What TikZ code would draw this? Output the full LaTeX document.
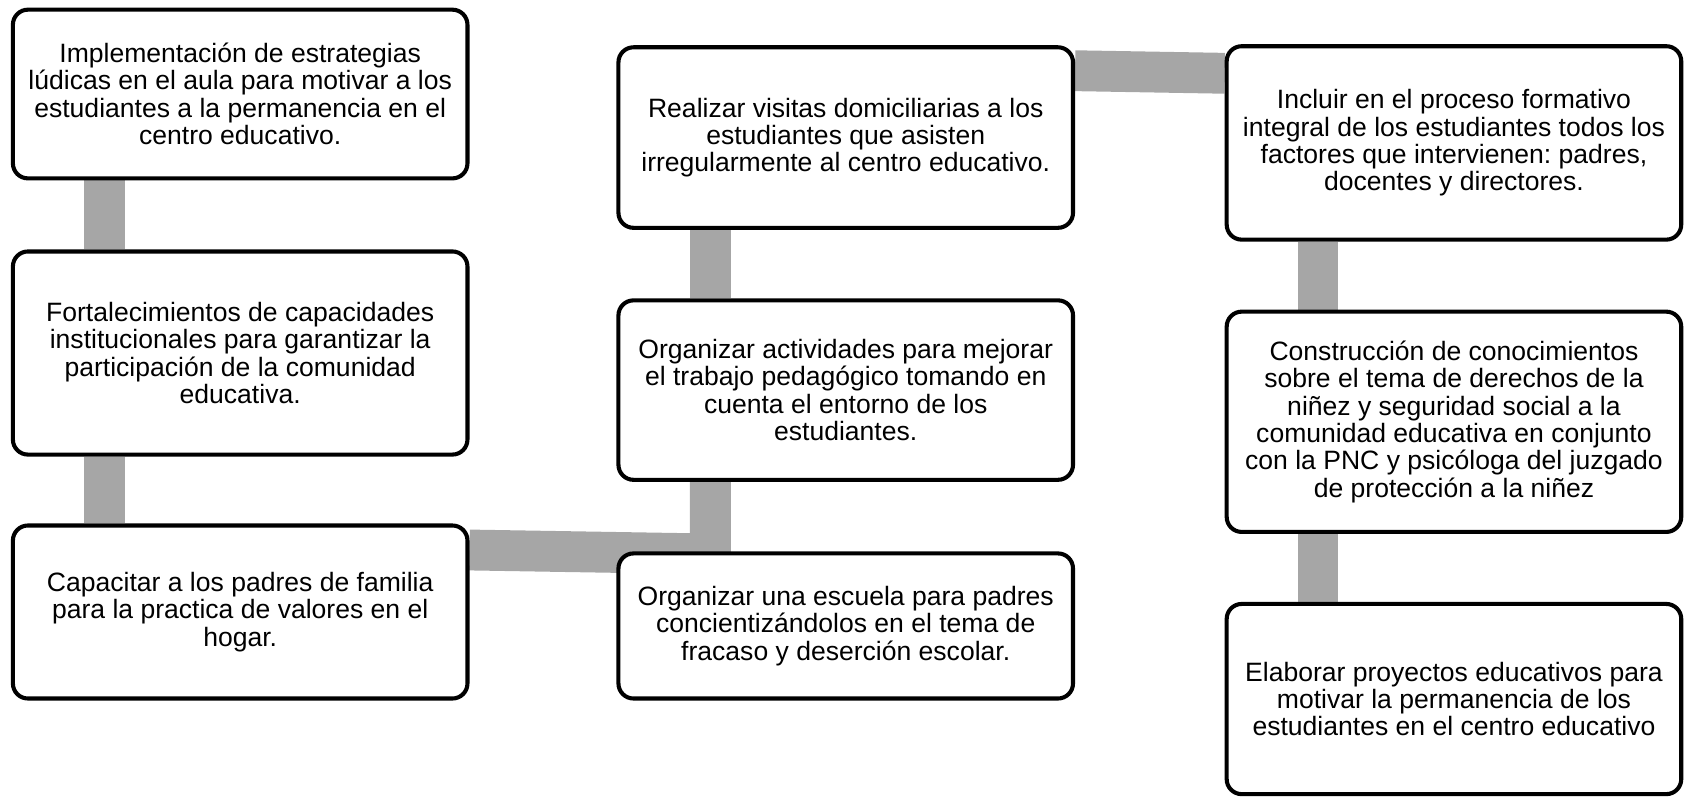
\documentclass[tikz,border=0pt]{standalone}
\usepackage{fontspec}
\setmainfont{Liberation Sans}
\usetikzlibrary{backgrounds}
\definecolor{barcol}{HTML}{A6A6A6}
\frenchspacing
\begin{document}
\begin{tikzpicture}[x=1pt,y=-1pt,
  box/.style={draw=black, line width=3.8pt, rounded corners=14pt, fill=white,
    align=center, font=\fontsize{24.7}{25.5}\selectfont, inner sep=0pt,
    minimum width=423pt},
  conn/.style={draw=barcol, line width=38pt, line join=miter, line cap=butt}]
\useasboundingbox (0,0) rectangle (1568,742);
% column 1
\node[box, minimum height=157pt] (A) at (223.5,87.5)
  {Implementación de estrategias\\lúdicas en el aula para motivar a los\\estudiantes a la permanencia en el\\centro educativo.};
\node[box, minimum height=189pt] (B) at (223.5,328.5)
  {Fortalecimientos de capacidades\\institucionales para garantizar la\\participación de la comunidad\\educativa.};
\node[box, minimum height=161pt] (C) at (223.5,569.5)
  {Capacitar a los padres de familia\\para la practica de valores en el\\hogar.};
% column 2
\node[box, minimum height=168pt] (D) at (787,128)
  {Realizar visitas domiciliarias a los\\estudiantes que asisten\\irregularmente al centro educativo.};
\node[box, minimum height=167pt] (E) at (787,363)
  {Organizar actividades para mejorar\\el trabajo pedagógico tomando en\\cuenta el entorno de los\\estudiantes.};
\node[box, minimum height=135pt] (F) at (787,582.5)
  {Organizar una escuela para padres\\concientizándolos en el tema de\\fracaso y deserción escolar.};
% column 3
\node[box, minimum height=180pt] (G) at (1353,133)
  {Incluir en el proceso formativo\\integral de los estudiantes todos los\\factores que intervienen: padres,\\docentes y directores.};
\node[box, minimum height=205pt] (H) at (1353,392.5)
  {Construcción de conocimientos\\sobre el tema de derechos de la\\niñez y seguridad social a la\\comunidad educativa en conjunto\\con la PNC y psicóloga del juzgado\\de protección a la niñez};
\node[box, minimum height=177pt] (I) at (1353,650.5)
  {Elaborar proyectos educativos para\\motivar la permanencia de los\\estudiantes en el centro educativo};
% connectors
\coordinate (x1) at (97,0);
\coordinate (x2) at (661,0);
\coordinate (x3) at (1226.5,0);
\coordinate (yc) at (0,511.8);
\coordinate (elbow) at (661,515.5);
\coordinate (yd) at (0,65.8);
\coordinate (yg) at (0,68.2);
\begin{pgfonlayer}{background}
\draw[conn] (x1 |- A.south) -- (x1 |- B.north);
\draw[conn] (x1 |- B.south) -- (x1 |- C.north);
\draw[conn] (C.east |- yc) -- (elbow) -- (elbow |- E.south);
\draw[conn] (x2 |- D.south) -- (x2 |- E.north);
\draw[conn] (D.east |- yd) -- (G.west |- yg);
\draw[conn] (x3 |- G.south) -- (x3 |- H.north);
\draw[conn] (x3 |- H.south) -- (x3 |- I.north);
\end{pgfonlayer}
\end{tikzpicture}
\end{document}
